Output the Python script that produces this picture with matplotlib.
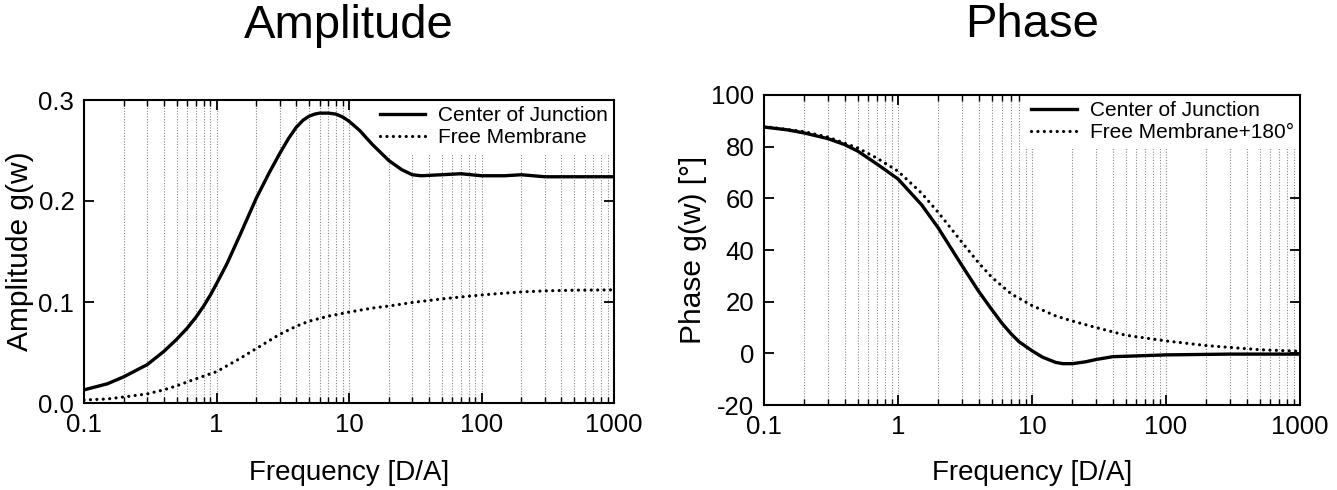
import matplotlib
matplotlib.use("Agg")
import matplotlib.pyplot as plt
from matplotlib.ticker import LogLocator, FixedLocator, FixedFormatter, NullFormatter
import numpy as np

plt.rcParams['font.family'] = ['Liberation Sans', 'DejaVu Sans']

# ---- data ----
amp_freq_cj = [0.1, 0.15, 0.2, 0.3, 0.4, 0.5, 0.6, 0.7, 0.8, 0.9, 1, 1.2, 1.5, 2, 2.5, 3, 3.5, 4, 4.5, 5,
               5.5, 6, 7, 8, 9, 10, 12, 15, 20, 25, 30, 35, 50, 70, 100, 150, 200, 300, 500, 1000]
amp_cj = [0.013, 0.019, 0.026, 0.038, 0.051, 0.063, 0.074, 0.085, 0.096, 0.107, 0.118, 0.138, 0.166, 0.203,
          0.228, 0.247, 0.262, 0.273, 0.280, 0.284, 0.286, 0.287, 0.287, 0.286, 0.283, 0.279, 0.270, 0.256,
          0.240, 0.231, 0.226, 0.225, 0.226, 0.227, 0.225, 0.225, 0.226, 0.224, 0.224, 0.224]

amp_freq_fm = [0.1, 0.15, 0.2, 0.3, 0.4, 0.5, 0.7, 1, 1.5, 2, 3, 4, 5, 7, 10, 15, 20, 30, 50, 70, 100,
               200, 300, 500, 1000]
amp_fm = [0.003, 0.004, 0.006, 0.009, 0.013, 0.017, 0.024, 0.031, 0.044, 0.054, 0.068, 0.076, 0.081,
          0.086, 0.090, 0.094, 0.096, 0.0995, 0.103, 0.105, 0.107, 0.110, 0.111, 0.1117, 0.112]

ph_freq_cj = [0.1, 0.15, 0.2, 0.3, 0.4, 0.5, 0.7, 1, 1.5, 2, 2.5, 3, 4, 5, 6, 7, 8, 10, 12, 15, 17, 20,
              25, 30, 40, 60, 100, 300, 1000]
ph_cj = [87.6, 86.5, 85.3, 83.1, 80.8, 78.3, 73.2, 67.5, 57.5, 48.5, 40.5, 34.0, 24.0, 17.0, 11.5, 7.5,
         4.5, 1.0, -1.5, -3.5, -4.0, -4.0, -3.3, -2.4, -1.3, -1.0, -0.6, -0.3, -0.3]

ph_freq_fm = [0.1, 0.2, 0.3, 0.5, 0.7, 1, 1.5, 2, 3, 4, 5, 7, 10, 15, 20, 30, 50, 100, 200, 500, 1000]
ph_fm = [87.8, 85.8, 83.7, 79.5, 75.5, 70.5, 62.0, 54.5, 43.0, 35.0, 29.5, 23.0, 18.5, 14.5, 12.5, 10.0,
         7.0, 4.8, 3.0, 1.4, 0.8]

x_ticks = [0.1, 1, 10, 100, 1000]
x_tick_labels = ["0.1", "1", "10", "100", "1000"]
amp_yticks = [0.0, 0.1, 0.2, 0.3]
amp_ytick_labels = ["0.0", "0.1", "0.2", "0.3"]
ph_yticks = [-20, 0, 20, 40, 60, 80, 100]
ph_ytick_labels = ["-20", "0", "20", "40", "60", "80", "100"]

W, H = 1337, 490
fig = plt.figure(figsize=(W / 100, H / 100), dpi=100)

def box(x0, y0, x1, y1):
    return [x0 / W, 1 - y1 / H, (x1 - x0) / W, (y1 - y0) / H]

ax1 = fig.add_axes(box(84, 100, 614, 403))
ax2 = fig.add_axes(box(764, 95, 1300, 405))

DOT = (0, (0.01, 2.0))

def style(ax, yticks, ylabels, ylim, ylabel, title, tpad, xpad):
    ax.set_xscale('log')
    ax.set_xlim(0.1, 1000)
    ax.set_ylim(*ylim)
    ax.xaxis.set_major_locator(FixedLocator(x_ticks))
    ax.xaxis.set_major_formatter(FixedFormatter(x_tick_labels))
    ax.xaxis.set_minor_locator(LogLocator(base=10, subs=np.arange(2, 10)))
    ax.xaxis.set_minor_formatter(NullFormatter())
    ax.set_yticks(yticks)
    ax.set_yticklabels(ylabels)
    ax.tick_params(axis='both', which='major', direction='in', length=7, width=1.3,
                   top=True, right=True, labelsize=18.5, pad=7)
    ax.tick_params(axis='x', which='minor', direction='in', length=4, width=1.0,
                   top=True, bottom=True)
    ax.grid(True, which='both', axis='x', linestyle=(0, (1, 1.5)), color='#888888', linewidth=0.8,
            zorder=0.5)
    ax.set_axisbelow(True)
    for s in ax.spines.values():
        s.set_linewidth(1.5)
    ax.set_xlabel("Frequency [D/A]", fontsize=20, labelpad=xpad)
    ax.set_ylabel(ylabel, fontsize=21.5, labelpad=3)
    ax.set_title(title, fontsize=34, pad=tpad)

style(ax1, amp_yticks, amp_ytick_labels, (0, 0.3), "Amplitude g(w)", "Amplitude", 45, 17)
style(ax2, ph_yticks, ph_ytick_labels, (-20, 100), "Phase g(w) [°]", "Phase", 41.5, 15.5)

ax1.plot(amp_freq_cj, amp_cj, color='black', lw=2.4, label='Center of Junction', zorder=3)
ax1.plot(amp_freq_fm, amp_fm, color='black', lw=2.3, linestyle=DOT,
         dash_capstyle='round', label='Free Membrane', zorder=3)

ax2.plot(ph_freq_cj, ph_cj, color='black', lw=2.4, label='Center of Junction', zorder=3)
ax2.plot(ph_freq_fm, ph_fm, color='black', lw=2.3, linestyle=DOT,
         dash_capstyle='round', label='Free Membrane+180°', zorder=3)

for ax in (ax1, ax2):
    leg = ax.legend(loc='upper right', bbox_to_anchor=(1.0, 1.0), fontsize=15,
                    frameon=True, framealpha=1, facecolor='white', edgecolor='none',
                    fancybox=False, handlelength=2.2, handletextpad=0.6,
                    labelspacing=0.15, borderaxespad=0.0, borderpad=0.3)
    leg.set_zorder(1.5)

fig.savefig("out.png", dpi=100)
